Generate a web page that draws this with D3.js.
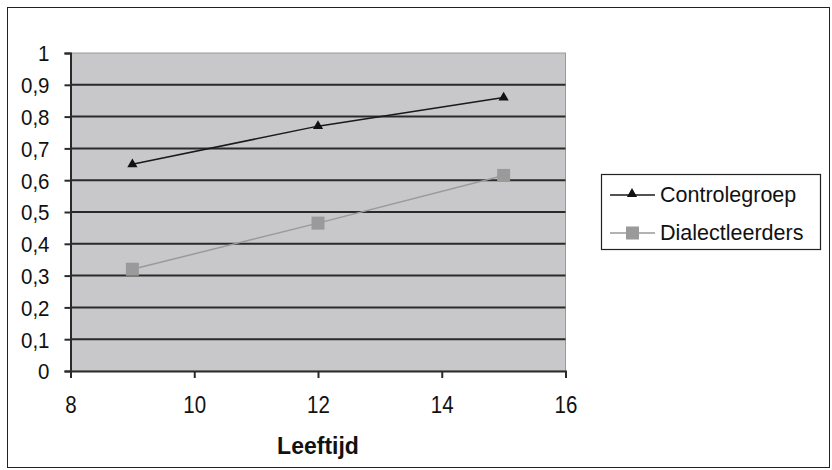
<!DOCTYPE html>
<html>
<head>
<meta charset="utf-8">
<script src="https://cdn.jsdelivr.net/npm/d3@7"></script>
<style>
  html, body { margin: 0; padding: 0; background: #fff; }
  svg { display: block; font-family: "Liberation Sans", Arial, sans-serif; }
</style>
</head>
<body>
<svg id="chart" width="832" height="470"></svg>
<script>
// Leeftijd (x) and proportion per group
const ages = [9, 12, 15];
const controlegroep = [0.65, 0.77, 0.86];
const dialectleerders = [0.32, 0.465, 0.615];
const seriesNames = ["Controlegroep", "Dialectleerders"];
const xTicks = [8, 10, 12, 14, 16];
const yTicks = [0, 0.1, 0.2, 0.3, 0.4, 0.5, 0.6, 0.7, 0.8, 0.9, 1];
const xTitle = "Leeftijd";

const svg = d3.select("#chart");
const W = 832, H = 470;
const plot = { left: 70.5, right: 565.5, top: 53, bottom: 371 };
const FONT = "Liberation Sans, Arial, sans-serif";

// outer frame
svg.append("rect")
  .attr("x", 7.5).attr("y", 7.5)
  .attr("width", W - 10).attr("height", H - 10)
  .attr("fill", "#fff").attr("stroke", "#222").attr("stroke-width", 1);

const x = d3.scaleLinear().domain([8, 16]).range([plot.left, plot.right]);
const y = d3.scaleLinear().domain([0, 1]).range([plot.bottom, plot.top]);

// plot background
svg.append("rect")
  .attr("x", plot.left).attr("y", plot.top)
  .attr("width", plot.right - plot.left).attr("height", plot.bottom - plot.top)
  .attr("fill", "#c8c8ca")
  .attr("stroke", "#999").attr("stroke-width", 1);

// horizontal gridlines
svg.append("g").selectAll("line")
  .data(yTicks.filter(d => d > 0 && d < 1))
  .join("line")
  .attr("x1", plot.left).attr("x2", plot.right)
  .attr("y1", d => y(d)).attr("y2", d => y(d))
  .attr("stroke", "#2a2a2a").attr("stroke-width", 2);

// y axis
const fmt = d => d3.format(".1~f")(d).replace(".", ",");
const yAxis = svg.append("g")
  .attr("transform", `translate(${plot.left},0)`)
  .call(d3.axisLeft(y).tickValues(yTicks).tickFormat(fmt).tickSize(6).tickPadding(15));
yAxis.select(".domain").attr("stroke", "#2a2a2a").attr("stroke-width", 2);
yAxis.selectAll(".tick line").attr("stroke", "#2a2a2a").attr("stroke-width", 2);
yAxis.selectAll("text")
  .attr("font-size", 20.5).attr("fill", "#111").attr("font-family", FONT)
  .attr("dy", "0.35em")
  .attr("transform", "scale(1,1.1)");

// x axis
const xAxis = svg.append("g")
  .attr("transform", `translate(0,${plot.bottom})`)
  .call(d3.axisBottom(x).tickValues(xTicks).tickFormat(d3.format("d")).tickSize(7));
xAxis.select(".domain").attr("stroke", "#2a2a2a").attr("stroke-width", 2);
xAxis.selectAll(".tick line").attr("stroke", "#2a2a2a").attr("stroke-width", 2);
xAxis.selectAll("text")
  .attr("font-size", 20.5).attr("fill", "#111").attr("font-family", FONT)
  .attr("y", 0).attr("dy", 0)
  .attr("transform", "translate(0,42) scale(1,1.15)");

// axis title
svg.append("text")
  .attr("x", 318).attr("y", 454)
  .attr("text-anchor", "middle")
  .attr("font-size", 23).attr("font-weight", "bold").attr("fill", "#111")
  .text(xTitle);

const line = d3.line().x(d => x(d[0])).y(d => y(d[1]));
const tri = d3.symbol().type(d3.symbolTriangle).size(45);

// Controlegroep
const cData = ages.map((a, i) => [a, controlegroep[i]]);
svg.append("path").datum(cData)
  .attr("d", line).attr("fill", "none")
  .attr("stroke", "#1a1a1a").attr("stroke-width", 1.5);
svg.append("g").selectAll("path")
  .data(cData).join("path")
  .attr("transform", d => `translate(${x(d[0])},${y(d[1])})`)
  .attr("d", tri).attr("fill", "#111");

// Dialectleerders
const dData = ages.map((a, i) => [a, dialectleerders[i]]);
svg.append("path").datum(dData)
  .attr("d", line).attr("fill", "none")
  .attr("stroke", "#9a9a9a").attr("stroke-width", 1.5);
svg.append("g").selectAll("rect")
  .data(dData).join("rect")
  .attr("x", d => x(d[0]) - 6.5).attr("y", d => y(d[1]) - 6.5)
  .attr("width", 13).attr("height", 13)
  .attr("fill", "#9a9a9a");

// legend
const lg = svg.append("g");
lg.append("rect")
  .attr("x", 601.5).attr("y", 174.5)
  .attr("width", 219).attr("height", 75)
  .attr("fill", "#fff").attr("stroke", "#222").attr("stroke-width", 1.2);
const legY = [195, 233];
seriesNames.forEach((name, i) => {
  const cy = legY[i];
  lg.append("line")
    .attr("x1", 610).attr("x2", 655).attr("y1", cy).attr("y2", cy)
    .attr("stroke", i === 0 ? "#1a1a1a" : "#9a9a9a").attr("stroke-width", 1.5);
  if (i === 0) {
    lg.append("path").attr("transform", `translate(632,${cy - 1})`)
      .attr("d", tri).attr("fill", "#111");
  } else {
    lg.append("rect").attr("x", 626).attr("y", cy - 6.5)
      .attr("width", 13).attr("height", 13).attr("fill", "#9a9a9a");
  }
  lg.append("text")
    .attr("x", 660).attr("y", cy + 7)
    .attr("font-size", 21.5).attr("fill", "#111")
    .text(name);
});
</script>
</body>
</html>
